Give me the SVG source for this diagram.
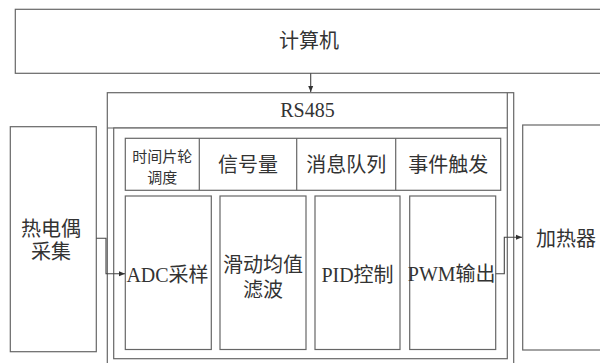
<svg xmlns="http://www.w3.org/2000/svg" width="600" height="363" viewBox="0 0 600 363">
<defs>
<style>
.b{fill:#fff;stroke:#666;stroke-width:1.2}
.l{fill:none;stroke:#666;stroke-width:1.2}
.c{fill:none;stroke:#444;stroke-width:1.1}
text{font-family:"Liberation Serif","Noto Sans CJK SC",serif;fill:#333;text-anchor:middle;dominant-baseline:central}
.t20{font-size:20px}
.t15{font-size:15px}
</style>
<marker id="ah" viewBox="0 0 6 6" refX="6" refY="3" markerWidth="6" markerHeight="6" markerUnits="userSpaceOnUse" orient="auto">
<path d="M0,0.5 L6,3 L0,5.5 Z" fill="#333"/>
</marker>
</defs>
<rect width="600" height="363" fill="#fff"/>
<g id="computer">
<rect class="b" x="15.3" y="9.3" width="600" height="64"/>
<text class="t20" x="309" y="41">计算机</text>
</g>
<g id="rs485">
<rect class="b" x="107.3" y="92.7" width="406.4" height="290"/>
<line class="l" x1="107.3" y1="128" x2="507.3" y2="128"/>
<line class="l" x1="507.3" y1="92.7" x2="507.3" y2="128"/>
<text class="t20" x="307.5" y="110">RS485</text>
</g>
<g id="inner">
<rect class="b" x="113.7" y="128" width="393.6" height="230.7"/>
</g>
<g id="top-row">
<rect class="b" x="125.3" y="138.3" width="375.4" height="52"/>
<line class="l" x1="199.3" y1="138.3" x2="199.3" y2="190.3"/>
<line class="l" x1="296.7" y1="138.3" x2="296.7" y2="190.3"/>
<line class="l" x1="395.7" y1="138.3" x2="395.7" y2="190.3"/>
</g>
<g id="time-slice">
<text class="t15" x="162.3" y="157">时间片轮</text>
<text class="t15" x="162.3" y="178">调度</text>
</g>
<g id="semaphore"><text class="t20" x="248" y="164.5">信号量</text></g>
<g id="queue"><text class="t20" x="346.2" y="164.5">消息队列</text></g>
<g id="event"><text class="t20" x="448.2" y="164.5">事件触发</text></g>
<g id="adc">
<rect class="b" x="125.3" y="196" width="86" height="153.5"/>
<text class="t20" x="167.5" y="275">ADC采样</text>
</g>
<g id="filter">
<rect class="b" x="220" y="196" width="86" height="153.5"/>
<text class="t20" x="263" y="265">滑动均值</text>
<text class="t20" x="263" y="290">滤波</text>
</g>
<g id="pid">
<rect class="b" x="315" y="196" width="85" height="153.5"/>
<text class="t20" x="357.5" y="275">PID控制</text>
</g>
<g id="pwm">
<rect class="b" x="409.7" y="196" width="86" height="153.5"/>
<text class="t20" x="451.7" y="274">PWM输出</text>
</g>
<g id="thermocouple">
<rect class="b" x="10.3" y="126.7" width="86" height="225"/>
<text class="t20" x="51" y="228.5">热电偶</text>
<text class="t20" x="51" y="252">采集</text>
</g>
<g id="heater">
<rect class="b" x="522.7" y="125" width="90" height="225"/>
<text class="t20" x="566" y="238.5">加热器</text>
</g>
<g id="connectors">
<path class="c" d="M310.7,73.3 V92" marker-end="url(#ah)"/>
<path class="c" d="M96.3,238.3 H106 V273.7 H125" marker-end="url(#ah)"/>
<path class="c" d="M495.7,273.7 H504.3 V237.3 H522" marker-end="url(#ah)"/>
</g>
</svg>
